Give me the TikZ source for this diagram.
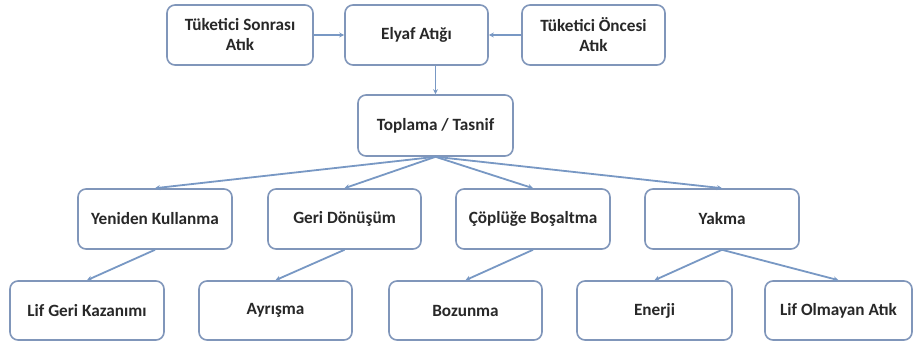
\documentclass[tikz,border=0pt]{standalone}
\usepackage{fontspec}
\setmainfont{Carlito}
\usetikzlibrary{arrows.meta}
\definecolor{boxline}{RGB}{128,150,186}
\definecolor{conn}{RGB}{120,152,196}
\definecolor{txt}{RGB}{40,40,40}
\tikzset{
  box/.style={draw=boxline, line width=1.6pt, rounded corners=8pt, fill=white,
    minimum height=60pt, inner sep=2pt, align=center, text=txt,
    font=\fontsize{17.2}{20}\selectfont\bfseries},
  conn/.style={draw=conn, line width=1.8pt, -{Stealth[length=5pt,width=5pt]}}
}
\begin{document}
\begin{tikzpicture}[x=1pt,y=-1pt]
\useasboundingbox[fill=white] (0,0) rectangle (914,344);
\node[box, minimum width=146pt] (sonra) at (240,35) {Tüketici Sonrası\\Atık};
\node[box, minimum width=143pt] (elyaf) at (416.5,35) {Elyaf Atığı};
\node[box, minimum width=143pt] (once) at (593.5,35) {Tüketici Öncesi\\Atık};
\node[box, minimum width=155pt, minimum height=61pt] (toplama) at (435.5,125.5) {Toplama / Tasnif};
\node[box, minimum width=154pt] (yeniden) at (155,219) {Yeniden Kullanma};
\node[box, minimum width=153pt] (geri) at (344.5,219) {Geri Dönüşüm};
\node[box, minimum width=154pt] (cop) at (533,219) {Çöplüğe Boşaltma};
\node[box, minimum width=154pt] (yakma) at (722,219) {Yakma};
\node[box, minimum width=154pt, minimum height=59pt] (lifgeri) at (87,310.5) {Lif Geri Kazanımı};
\node[box, minimum width=153pt, minimum height=59pt] (ayr) at (275.5,310.5) {Ayrışma};
\node[box, minimum width=153pt, minimum height=59pt] (boz) at (465.5,310.5) {Bozunma};
\node[box, minimum width=155pt, minimum height=59pt] (enerji) at (654.5,310.5) {Enerji};
\node[box, minimum width=147pt, minimum height=59pt] (lifol) at (838.5,310.5) {Lif Olmayan Atık};
\draw[conn] (sonra.east) -- (elyaf.west);
\draw[conn] (once.west) -- (elyaf.east);
\draw[conn] (elyaf.south -| toplama.north) -- (toplama.north);
\foreach \c in {yeniden,geri,cop,yakma}{
  \draw[conn] (toplama.south) -- (\c.north);
}
\draw[conn] (yeniden.south) -- (lifgeri.north);
\draw[conn] (geri.south) -- (ayr.north);
\draw[conn] (cop.south) -- (boz.north);
\draw[conn] (yakma.south) -- (enerji.north);
\draw[conn] (yakma.south) -- (lifol.north);
\end{tikzpicture}
\end{document}
